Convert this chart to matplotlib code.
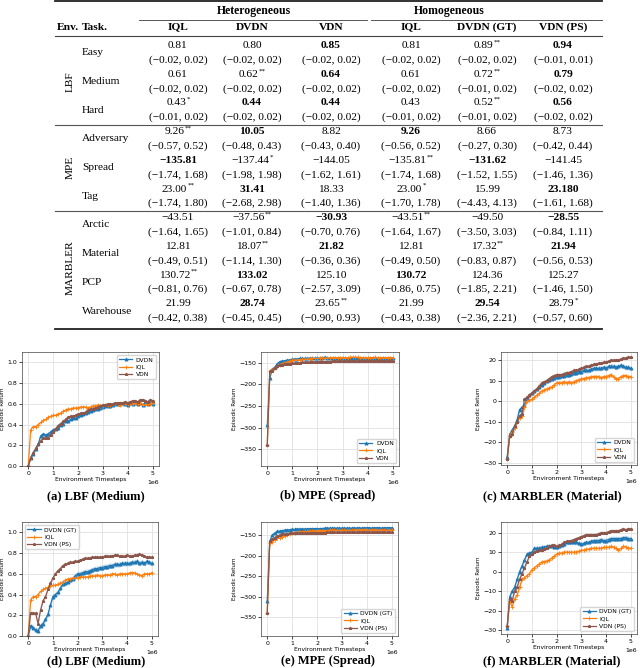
import numpy as np
import matplotlib
matplotlib.use('Agg')
import matplotlib.pyplot as plt
from matplotlib.lines import Line2D

# ---------------- table data ----------------
columns = ['IQL', 'DVDN', 'VDN', 'IQL', 'DVDN (GT)', 'VDN (PS)']
groups = ['Heterogeneous', 'Homogeneous']
envs = ['LBF', 'MPE', 'MARBLER']
tasks = [['Easy', 'Medium', 'Hard'],
         ['Adversary', 'Spread', 'Tag'],
         ['Arctic', 'Material', 'PCP', 'Warehouse']]
means = [
    ['0.81', '0.80', '0.85', '0.81', '0.89', '0.94'],
    ['0.61', '0.62', '0.64', '0.61', '0.72', '0.79'],
    ['0.43', '0.44', '0.44', '0.43', '0.52', '0.56'],
    ['9.26', '10.05', '8.82', '9.26', '8.66', '8.73'],
    ['-135.81', '-137.44', '-144.05', '-135.81', '-131.62', '-141.45'],
    ['23.00', '31.41', '18.33', '23.00', '15.99', '23.180'],
    ['-43.51', '-37.56', '-30.93', '-43.51', '-49.50', '-28.55'],
    ['12.81', '18.07', '21.82', '12.81', '17.32', '21.94'],
    ['130.72', '133.02', '125.10', '130.72', '124.36', '125.27'],
    ['21.99', '28.74', '23.65', '21.99', '29.54', '28.79'],
]
stars = [
    ['', '', '', '', '**', ''],
    ['', '**', '', '', '**', ''],
    ['*', '', '', '', '**', ''],
    ['**', '', '', '', '', ''],
    ['', '*', '', '**', '', ''],
    ['**', '', '', '*', '', ''],
    ['', '**', '', '**', '', ''],
    ['', '**', '', '', '**', ''],
    ['**', '', '', '', '', ''],
    ['', '', '**', '', '', '*'],
]
bold = [
    [0, 0, 1, 0, 0, 1],
    [0, 0, 1, 0, 0, 1],
    [0, 1, 1, 0, 0, 1],
    [0, 1, 0, 1, 0, 0],
    [1, 0, 0, 0, 1, 0],
    [0, 1, 0, 0, 0, 1],
    [0, 0, 1, 0, 0, 1],
    [0, 0, 1, 0, 0, 1],
    [0, 1, 0, 1, 0, 0],
    [0, 1, 0, 0, 1, 0],
]
ci_low = [
    [-0.02, -0.02, -0.02, -0.02, -0.02, -0.01],
    [-0.02, -0.02, -0.02, -0.02, -0.01, -0.02],
    [-0.01, -0.02, -0.02, -0.01, -0.01, -0.02],
    [-0.57, -0.48, -0.43, -0.56, -0.27, -0.42],
    [-1.74, -1.98, -1.62, -1.74, -1.52, -1.46],
    [-1.74, -2.68, -1.40, -1.70, -4.43, -1.61],
    [-1.64, -1.01, -0.70, -1.64, -3.50, -0.84],
    [-0.49, -1.14, -0.36, -0.49, -0.83, -0.56],
    [-0.81, -0.67, -2.57, -0.86, -1.85, -1.46],
    [-0.42, -0.45, -0.90, -0.43, -2.36, -0.57],
]
ci_high = [
    [0.02, 0.02, 0.02, 0.02, 0.02, 0.01],
    [0.02, 0.02, 0.02, 0.02, 0.02, 0.02],
    [0.02, 0.02, 0.02, 0.02, 0.02, 0.02],
    [0.52, 0.43, 0.40, 0.52, 0.30, 0.44],
    [1.68, 1.98, 1.61, 1.68, 1.55, 1.36],
    [1.80, 2.98, 1.36, 1.78, 4.13, 1.68],
    [1.65, 0.84, 0.76, 1.67, 3.03, 1.11],
    [0.51, 1.30, 0.36, 0.50, 0.87, 0.53],
    [0.76, 0.78, 3.09, 0.75, 2.21, 1.50],
    [0.38, 0.45, 0.93, 0.38, 2.21, 0.60],
]

# ---------------- learning-curve data ----------------
timesteps = np.arange(51) * 1e5

a_dvdn = [0.00, 0.08, 0.12, 0.16, 0.21, 0.29, 0.31, 0.30, 0.31, 0.33,
          0.35, 0.36, 0.37, 0.40, 0.41, 0.43, 0.43, 0.45, 0.46, 0.46,
          0.48, 0.49, 0.50, 0.51, 0.52, 0.53, 0.54, 0.55, 0.55, 0.56,
          0.57, 0.58, 0.58, 0.58, 0.59, 0.60, 0.60, 0.60, 0.61, 0.60,
          0.59, 0.61, 0.60, 0.61, 0.60, 0.61, 0.59, 0.61, 0.60, 0.61,
          0.60]
a_iql = [0.00, 0.35, 0.38, 0.38, 0.40, 0.42, 0.44, 0.45, 0.47, 0.48,
         0.49, 0.49, 0.50, 0.51, 0.53, 0.54, 0.55, 0.55, 0.56, 0.56,
         0.56, 0.57, 0.57, 0.57, 0.56, 0.57, 0.58, 0.58, 0.59, 0.58,
         0.58, 0.59, 0.59, 0.59, 0.59, 0.60, 0.60, 0.59, 0.60, 0.60,
         0.60, 0.61, 0.60, 0.61, 0.60, 0.61, 0.59, 0.59, 0.60, 0.60,
         0.61]
a_vdn = [0.00, 0.08, 0.13, 0.17, 0.21, 0.24, 0.27, 0.27, 0.27, 0.30,
         0.33, 0.36, 0.39, 0.41, 0.43, 0.45, 0.47, 0.48, 0.48, 0.49,
         0.50, 0.51, 0.51, 0.52, 0.54, 0.55, 0.55, 0.56, 0.57, 0.58,
         0.59, 0.59, 0.60, 0.60, 0.60, 0.61, 0.61, 0.61, 0.61, 0.62,
         0.61, 0.62, 0.63, 0.63, 0.62, 0.64, 0.64, 0.63, 0.62, 0.64,
         0.63]

b_dvdn = [-295, -185, -165, -160, -152, -147, -146, -145, -144, -143,
          -142, -141, -141, -140, -140, -140, -140, -139, -140, -139,
          -139, -139, -138, -137, -139, -139, -140, -139, -140, -140,
          -140, -140, -141, -140, -140, -140, -139, -140, -140, -141,
          -140, -141, -140, -140, -140, -141, -140, -140, -141, -140,
          -140]
b_iql = [-340, -170, -166, -162, -157, -154, -152, -150, -148, -146,
         -144, -144, -143, -143, -142, -142, -141, -141, -140, -140,
         -140, -140, -139, -139, -139, -138, -138, -138, -138, -138,
         -138, -138, -138, -137, -137, -137, -137, -138, -138, -138,
         -138, -138, -138, -137, -138, -138, -138, -138, -138, -138,
         -138]
b_vdn = [-340, -170, -168, -162, -157, -155, -154, -153, -152, -152,
         -151, -151, -150, -150, -149, -149, -149, -148, -148, -148,
         -147, -147, -147, -147, -147, -147, -146, -146, -146, -146,
         -146, -146, -146, -146, -145, -146, -146, -145, -145, -145,
         -145, -145, -146, -145, -145, -146, -145, -146, -146, -146,
         -146]

c_dvdn = [-27, -16, -14, -12, -9, -4, -3, -2, 1, 3,
          4, 5, 6, 7, 8, 9, 10, 10.5, 11, 11.5,
          12, 12, 12.5, 12.5, 13, 13, 13.5, 14, 14, 14.5,
          14.5, 15, 15, 15, 15.5, 16, 16, 16, 16, 16.5,
          16, 17, 17, 17, 16.5, 17, 17.5, 17, 16.5, 16.5,
          16]
c_iql = [-28, -17, -15, -13, -10, -8, -7, -3, 0, 0.5,
         1, 2, 3, 4, 5, 5.5, 6, 6.5, 7, 8,
         9, 9, 9, 9.5, 9, 9.5, 9, 9.5, 10, 10.5,
         11, 11, 11.5, 11.5, 12, 12, 12, 12, 11.5, 12,
         12, 12.5, 13, 12, 11, 11, 12, 12.5, 12.5, 12,
         12]
c_vdn = [-28, -17, -16, -12, -10, -7, -6, 1, 2, 3,
         4, 5, 6, 7.5, 9, 9.5, 10, 11, 12, 12.5,
         13, 13, 13, 13.5, 14, 14, 14.5, 15, 15, 15.5,
         16, 16.5, 17, 17, 17.5, 18, 18, 18.5, 18.5, 19,
         19, 19.5, 20, 20, 20, 20, 20.5, 21, 21, 21.5,
         21.5]

d_dvdn = [0.00, 0.10, 0.08, 0.06, 0.05, 0.10, 0.12, 0.16, 0.21, 0.30,
          0.38, 0.40, 0.42, 0.46, 0.50, 0.51, 0.52, 0.54, 0.55, 0.58,
          0.60, 0.60, 0.61, 0.62, 0.62, 0.63, 0.64, 0.65, 0.65, 0.66,
          0.66, 0.67, 0.67, 0.68, 0.68, 0.69, 0.69, 0.69, 0.70, 0.70,
          0.70, 0.70, 0.71, 0.71, 0.72, 0.70, 0.71, 0.70, 0.72, 0.71,
          0.70]
d_iql = [0.00, 0.35, 0.38, 0.38, 0.40, 0.43, 0.45, 0.46, 0.47, 0.48,
         0.49, 0.49, 0.50, 0.51, 0.52, 0.54, 0.55, 0.55, 0.56, 0.56,
         0.56, 0.57, 0.57, 0.57, 0.57, 0.58, 0.58, 0.58, 0.59, 0.58,
         0.58, 0.59, 0.59, 0.59, 0.60, 0.60, 0.59, 0.60, 0.60, 0.60,
         0.60, 0.61, 0.61, 0.61, 0.60, 0.59, 0.58, 0.60, 0.60, 0.60,
         0.61]
d_vdn = [0.00, 0.22, 0.22, 0.22, 0.12, 0.25, 0.34, 0.38, 0.45, 0.51,
         0.56, 0.60, 0.63, 0.65, 0.68, 0.69, 0.70, 0.71, 0.71, 0.72,
         0.72, 0.73, 0.74, 0.75, 0.75, 0.75, 0.76, 0.76, 0.76, 0.76,
         0.76, 0.77, 0.77, 0.77, 0.77, 0.78, 0.78, 0.77, 0.77, 0.77,
         0.78, 0.77, 0.77, 0.78, 0.78, 0.79, 0.78, 0.77, 0.76, 0.76,
         0.76]

e_dvdn = [-310, -165, -150, -145, -141, -140, -139, -138, -137, -137,
          -136, -136, -135, -135, -135, -135, -135, -134, -134, -134,
          -134, -134, -134, -133, -133, -133, -133, -133, -133, -133,
          -133, -133, -133, -133, -133, -132, -133, -132, -133, -132,
          -132, -132, -133, -132, -132, -132, -133, -132, -132, -132,
          -132]
e_iql = [-340, -170, -166, -162, -158, -156, -154, -152, -149, -147,
         -145, -144, -143, -142, -142, -141, -141, -140, -140, -140,
         -139, -139, -139, -139, -139, -138, -138, -138, -138, -138,
         -138, -138, -138, -138, -138, -138, -137, -137, -137, -137,
         -137, -138, -137, -137, -137, -138, -137, -138, -138, -137,
         -138]
e_vdn = [-340, -165, -160, -156, -152, -150, -148, -147, -147, -146,
         -146, -146, -145, -145, -145, -145, -145, -144, -144, -144,
         -144, -144, -144, -144, -143, -143, -143, -143, -143, -143,
         -143, -143, -142, -143, -142, -142, -143, -142, -142, -142,
         -142, -142, -143, -142, -142, -143, -142, -142, -143, -142,
         -143]

f_dvdn = [-29, -13, -10, -8, -4, 0, 3, 6, 9, 9.5,
          10, 12, 12, 12, 12.5, 12.5, 13, 13, 13, 12.5,
          12.5, 13, 13.5, 14, 15, 15, 15, 15, 15, 14.5,
          14, 14.5, 15, 15, 15.5, 16, 16, 16, 16.5, 16,
          16, 16.5, 17, 17, 17, 17, 17, 17.5, 17.5, 17,
          17]
f_iql = [-28, -15, -18, -14, -12, -8, -4, -3, -2, -1,
         1, 2, 3, 4, 5, 5, 5.5, 6, 7, 8,
         9, 9.5, 9.5, 10, 10, 10, 10, 10, 10, 10.5,
         11, 11, 11.5, 11.5, 12, 12, 12, 12, 12, 12.5,
         12.5, 12.5, 13, 12.5, 12, 11, 12, 13, 12.5, 12,
         12]
f_vdn = [-28, -14, -15, -10, -8, -4, -1, 2, 5, 8,
         9, 10, 10.5, 11, 11, 11.5, 12, 13, 13.5, 13.5,
         13, 13.5, 14, 15, 15.5, 15.5, 16, 16.5, 17, 17.5,
         18, 18.5, 19, 19, 19, 19, 19, 19.5, 20, 20,
         20, 20.5, 21, 21, 21, 21, 21.5, 22, 21.5, 22,
         22]

labels_het = ['DVDN', 'IQL', 'VDN']
labels_hom = ['DVDN (GT)', 'IQL', 'VDN (PS)']
band_a = [0.012, 0.010, 0.012]
band_b = [1.5, 1.5, 1.5]
band_c = [1.2, 1.0, 0.8]
band_d = [0.025, 0.010, 0.012]
band_e = [1.5, 1.5, 1.5]
band_f = [1.2, 1.0, 0.8]
captions = ['(a) LBF (Medium)', '(b) MPE (Spread)', '(c) MARBLER (Material)',
            '(d) LBF (Medium)', '(e) MPE (Spread)', '(f) MARBLER (Material)']

# ---------------- figure ----------------
W, H = 640, 668
fig = plt.figure(figsize=(W / 100, H / 100), dpi=100)
renderer = fig.canvas.get_renderer()
SERIF = 'Liberation Serif'
FS = 8.2


def ftext(x, y, s, **kw):
    kw.setdefault('family', SERIF)
    return fig.text(x / W, 1 - y / H, s, **kw)


def hline(x0, x1, y, lw, color='#222222'):
    fig.add_artist(Line2D([x0 / W, x1 / W], [1 - y / H, 1 - y / H], color=color,
                          lw=lw, transform=fig.transFigure))


def num(v):
    return v.replace('-', '\u2212')


def fmt(v):
    s = f'{abs(v):.2f}'
    return ('\u2212' + s) if v < 0 else s


def cell(xc, y, s, b, st):
    t = ftext(xc, y, s, ha='left', va='center', fontsize=FS,
              weight='bold' if b else 'normal')
    w = t.get_window_extent(renderer).width
    ws = 0
    if st:
        stt = ftext(0, 0, st, ha='left', va='center', fontsize=FS * 0.62)
        ws = stt.get_window_extent(renderer).width
    x0 = xc - (w + ws) / 2
    t.set_x(x0 / W)
    if st:
        stt.set_position(((x0 + w + 0.3) / W, 1 - (y - 3.5) / H))


L, R = 55, 602
colx = [178, 252, 331, 411, 487, 563]
hline(L, R, 1.2, 1.3)
ftext(254, 11, groups[0], ha='center', va='center', fontsize=FS + 0.3, weight='bold')
ftext(449, 11, groups[1], ha='center', va='center', fontsize=FS + 0.3, weight='bold')
hline(139, 367, 19.5, 0.7, '#555555')
hline(371, R, 19.5, 0.7, '#555555')
ftext(57, 27, 'Env.', ha='left', va='center', fontsize=FS, weight='bold')
ftext(82, 27, 'Task.', ha='left', va='center', fontsize=FS, weight='bold')
for xc, c in zip(colx, columns):
    ftext(xc, 27, c, ha='center', va='center', fontsize=FS, weight='bold')
hline(L, R, 35.5, 0.8, '#444444')

y0, pitch = 45.5, 28.7
row = 0
for gi, (env, tl) in enumerate(zip(envs, tasks)):
    ystart = y0 + row * pitch
    for task in tl:
        yv = y0 + row * pitch
        yi = yv + 14.5
        ftext(82, (yv + yi) / 2, task, ha='left', va='center', fontsize=FS)
        for ci, xc in enumerate(colx):
            cell(xc, yv, num(means[row][ci]), bold[row][ci], stars[row][ci])
            ftext(xc, yi, f'({fmt(ci_low[row][ci])}, {fmt(ci_high[row][ci])})',
                  ha='center', va='center', fontsize=FS)
        row += 1
    yend = y0 + (row - 1) * pitch + 14.5
    ftext(70, (ystart + yend) / 2, env, ha='center', va='center', fontsize=FS,
          rotation=90)
    if gi < len(envs) - 1:
        hline(L, R, yend + 7.5, 0.8, '#555555')
    else:
        hline(L, R, yend + 11, 1.3)

# ---------------- plots ----------------
colors = ['#1f77b4', '#ff7f0e', '#8c564b']
markers = ['^', '+', '*']

panels = [
    ((22, 159, 352, 466), [a_dvdn, a_iql, a_vdn], band_a, labels_het, (0, 1.1), 'upper right'),
    ((261, 399, 352, 466), [b_dvdn, b_iql, b_vdn], band_b, labels_het, (-389, -125), 'lower right'),
    ((501, 637, 352, 465), [c_dvdn, c_iql, c_vdn], band_c, labels_het, (-31, 24), 'lower right'),
    ((22, 158, 522, 636), [d_dvdn, d_iql, d_vdn], band_d, labels_hom, (0, 1.1), 'upper left'),
    ((261, 398, 522, 636), [e_dvdn, e_iql, e_vdn], band_e, labels_hom, (-396, -118), 'lower right'),
    ((501, 637, 522, 634), [f_dvdn, f_iql, f_vdn], band_f, labels_hom, (-32, 25.5), 'lower right'),
]
cap_x = [96, 328, 552]
cap_y = [496, 661]

for pi, (box, series, bands, labels, ylim, loc) in enumerate(panels):
    x0, x1, yt, yb = box
    ax = fig.add_axes([x0 / W, 1 - yb / H, (x1 - x0) / W, (yb - yt) / H])
    for y, bw, lab, col, mk in zip(series, bands, labels, colors, markers):
        y = np.asarray(y, dtype=float)
        ax.fill_between(timesteps, y - bw, y + bw, color=col, alpha=0.25, lw=0)
        ax.plot(timesteps, y, color=col, marker=mk, ms=2.2, mew=0.6, lw=0.9, label=lab)
    ax.set_ylim(*ylim)
    ax.grid(True, color='#e0e0e0', lw=0.6)
    ax.set_axisbelow(True)
    ax.tick_params(labelsize=4.5, length=2, width=0.5, pad=1.5)
    for sp in ax.spines.values():
        sp.set_linewidth(0.5)
        sp.set_color('#444444')
    ax.xaxis.get_offset_text().set_fontsize(4.5)
    ax.set_xlabel('Environment Timesteps', fontsize=4.3, labelpad=1)
    ax.set_ylabel('Episodic Return', fontsize=4.0, labelpad=1.5)
    ax.legend(loc=loc, fontsize=4.3, handlelength=2.2, borderpad=0.4,
              labelspacing=0.35, handletextpad=0.6, framealpha=0.8,
              edgecolor='#cccccc')
    ftext(cap_x[pi % 3], cap_y[pi // 3], captions[pi], ha='center', va='center',
          fontsize=9, weight='bold')

fig.savefig('out.png', dpi=100)
